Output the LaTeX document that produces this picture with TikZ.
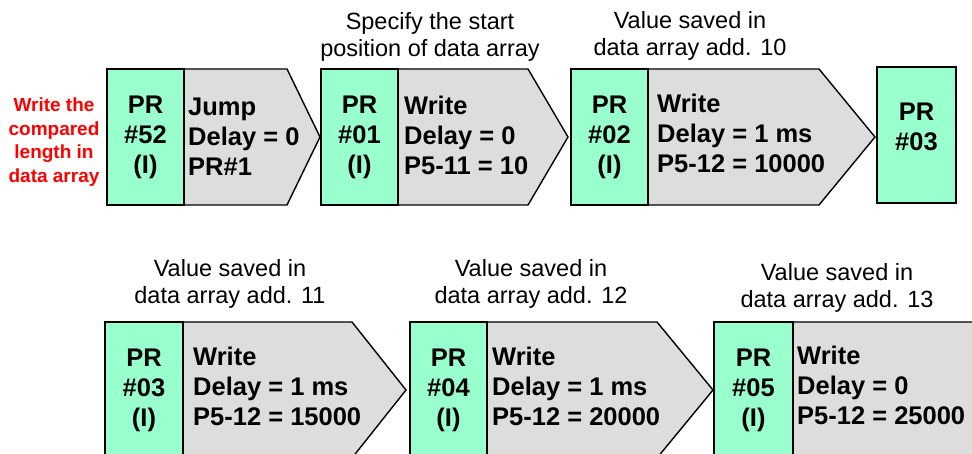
\documentclass[tikz,border=0pt]{standalone}
\usepackage{fontspec}
\setmainfont{Liberation Sans}
\usetikzlibrary{positioning}

\definecolor{prgreen}{HTML}{99FFCC}
\definecolor{cmdgray}{HTML}{DDDDDD}

\tikzset{
  prcell/.style={draw=black, line width=1.4pt, fill=prgreen, inner sep=0pt,
    minimum width=77pt, minimum height=136pt, align=center,
    font=\fontsize{25.5}{30}\selectfont\bfseries},
  cmdarrow/.style={draw=black, line width=1.4pt, fill=cmdgray, line join=miter},
  cmdtext/.style={anchor=west, inner sep=0pt, align=left,
    font=\fontsize{25.5}{30}\selectfont\bfseries},
  notetext/.style={inner sep=0pt, align=center,
    font=\fontsize{23.5}{27}\selectfont},
  redtext/.style={inner sep=0pt, align=center, text=red,
    font=\fontsize{19}{23.5}\selectfont\bfseries}
}

\begin{document}
\begin{tikzpicture}[x=1pt, y=-1pt]
  \useasboundingbox (0,0) rectangle (972,454);
  \clip (0,0) rectangle (972,454);

  % Left remark
  \node[redtext] (remark) at (54,142) {Write the\\compared\\length in\\data array};

  % PR#52
  \draw[cmdarrow] (184,69) -- (287,69) -- (320,137) -- (287,205) -- (184,205) -- cycle;
  \node[prcell] (pr52) at (145.5,137) {PR\\\#52\\(I)};
  \node[cmdtext] (cmd52) at (188,137) {Jump\\Delay = 0\\PR\#1};

  % PR#01
  \draw[cmdarrow] (398,69) -- (528,69) -- (568,137) -- (528,205) -- (398,205) -- cycle;
  \node[prcell] (pr01) at (359.5,137) {PR\\\#01\\(I)};
  \node[cmdtext] (cmd01) at (404,135) {Write\\Delay = 0\\P5-11 = 10};
  \node[notetext] (note01) at (430,37) {Specify the start\\position of data array};

  % PR#02
  \draw[cmdarrow] (648,69) -- (819,69) -- (875,137) -- (819,205) -- (648,205) -- cycle;
  \node[prcell] (pr02) at (609.5,137) {PR\\\#02\\(I)};
  \node[cmdtext] (cmd02) at (657,133) {Write\\Delay = \textbf{1} ms\\P5-12 = 10000};
  \node[notetext] (note02) at (690,36) {Value saved in\\data array add. 10};

  % PR#03 (end of first row)
  \node[prcell, minimum width=79pt, text depth=16pt] (pr03a) at (916.5,135) {PR\\\#03};

  % PR#03
  \draw[cmdarrow] (183,322) -- (352,322) -- (406,390) -- (352,458) -- (183,458) -- cycle;
  \node[prcell, minimum width=78pt] (pr03) at (144,390) {PR\\\#03\\(I)};
  \node[cmdtext] (cmd03) at (193,386) {Write\\Delay = 1 ms\\P5-12 = 15000};
  \node[notetext] (note03) at (230,284) {Value saved in\\data array add. 11};

  % PR#04
  \draw[cmdarrow] (487,322) -- (657,322) -- (713,390) -- (657,458) -- (487,458) -- cycle;
  \node[prcell] (pr04) at (448.5,390) {PR\\\#04\\(I)};
  \node[cmdtext] (cmd04) at (492,386) {Write\\Delay = 1 ms\\P5-12 = 20000};
  \node[notetext] (note04) at (531,284) {Value saved in\\data array add. 12};

  % PR#05
  \draw[cmdarrow] (793,322) -- (980,322) -- (1036,390) -- (980,458) -- (793,458) -- cycle;
  \node[prcell, minimum width=79pt] (pr05) at (753.5,390) {PR\\\#05\\(I)};
  \node[cmdtext] (cmd05) at (797,385) {Write\\Delay = 0\\P5-12 = 25000};
  \node[notetext] (note05) at (837,288) {Value saved in\\data array add. 13};
\end{tikzpicture}
\end{document}
